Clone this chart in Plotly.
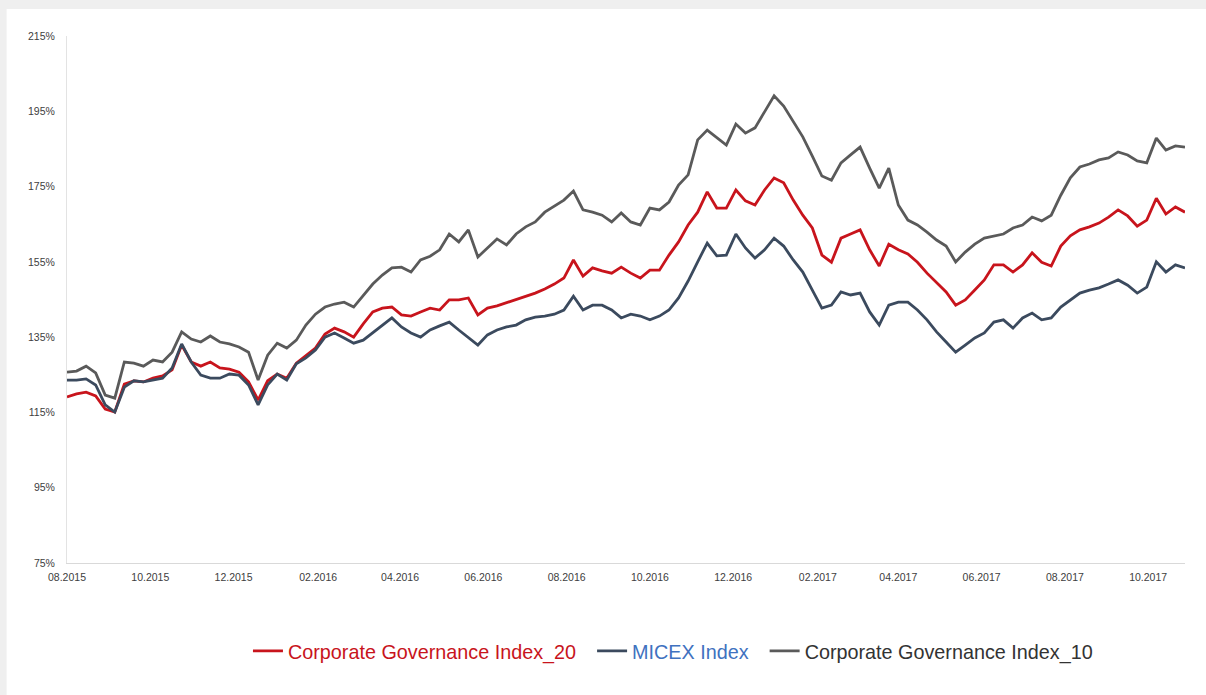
import pandas as pd
import plotly.graph_objects as go

# weekly observations, Aug 2015 - Oct 2017
dates = pd.date_range("2015-08-01", periods=118, freq="7D")

cgi20 = [119.1, 119.9, 120.4, 119.4, 115.9, 115.1, 122.5, 123.4, 123.1, 124.1,
         124.7, 126.3, 132.9, 128.4, 127.3, 128.4, 126.8, 126.5, 125.7, 123.1,
         118.3, 123.4, 125.2, 124.1, 128.1, 130.2, 132.1, 135.8, 137.4, 136.4,
         135.0, 138.5, 141.7, 142.7, 143.0, 140.9, 140.6, 141.7, 142.7, 142.2,
         144.9, 144.9, 145.4, 140.9, 142.7, 143.3, 144.1, 145.1, 145.9, 146.7,
         147.8, 149.1, 150.7, 155.5, 151.2, 153.4, 152.6, 152.0, 153.6, 152.0,
         150.7, 152.8, 152.8, 156.8, 160.3, 164.8, 168.2, 173.6, 169.3, 169.3,
         174.1, 171.2, 170.1, 174.1, 177.3, 176.0, 171.4, 167.4, 164.0, 156.8,
         154.9, 161.3, 162.4, 163.5, 158.2, 153.9, 159.7, 158.2, 157.1, 154.9,
         152.0, 149.6, 147.0, 143.5, 144.9, 147.5, 150.2, 154.2, 154.2, 152.3,
         154.2, 157.4, 154.9, 153.9, 159.2, 161.9, 163.5, 164.3, 165.3, 166.9,
         168.8, 167.2, 164.5, 166.1, 171.9, 167.7, 169.6, 168.2]

micex = [123.6, 123.6, 123.9, 122.3, 117.0, 115.1, 121.7, 123.4, 123.1, 123.6,
         124.1, 126.8, 133.2, 128.4, 124.9, 124.1, 124.1, 125.2, 124.9, 122.3,
         117.0, 122.3, 125.2, 123.6, 127.9, 129.5, 131.6, 135.0, 136.1, 134.8,
         133.4, 134.2, 136.1, 138.2, 140.1, 137.7, 136.1, 135.0, 136.9, 138.0,
         139.0, 136.9, 135.0, 132.9, 135.6, 136.9, 137.7, 138.2, 139.6, 140.3,
         140.6, 141.1, 142.2, 145.9, 142.2, 143.5, 143.5, 142.2, 140.1, 141.1,
         140.6, 139.6, 140.6, 142.2, 145.4, 149.9, 155.0, 160.0, 156.6, 156.8,
         162.4, 158.7, 156.0, 158.2, 161.3, 159.2, 155.5, 152.3, 147.5, 142.7,
         143.5, 147.0, 146.2, 146.7, 141.7, 138.2, 143.5, 144.3, 144.3, 142.2,
         139.6, 136.4, 133.7, 131.0, 132.9, 134.8, 136.1, 139.0, 139.6, 137.4,
         140.1, 141.4, 139.6, 140.1, 143.0, 144.9, 146.7, 147.5, 148.1, 149.1,
         150.2, 148.8, 146.7, 148.3, 155.0, 152.3, 154.2, 153.4]

cgi10 = [125.7, 126.0, 127.3, 125.5, 119.6, 118.8, 128.4, 128.1, 127.3, 128.9,
         128.4, 131.0, 136.4, 134.5, 133.7, 135.3, 133.7, 133.2, 132.4, 131.0,
         123.6, 130.2, 133.4, 132.1, 134.2, 138.2, 141.1, 143.0, 143.8, 144.3,
         143.0, 145.9, 149.1, 151.5, 153.4, 153.6, 152.3, 155.5, 156.5, 158.2,
         162.4, 160.3, 163.5, 156.3, 158.7, 161.1, 159.5, 162.4, 164.3, 165.6,
         168.2, 169.8, 171.4, 173.8, 168.8, 168.2, 167.4, 165.6, 168.0, 165.6,
         164.8, 169.3, 168.8, 170.9, 175.4, 178.1, 187.4, 190.0, 187.9, 186.0,
         191.6, 189.2, 190.6, 194.8, 199.1, 196.4, 192.2, 188.2, 183.1, 177.8,
         176.7, 181.3, 183.4, 185.5, 179.9, 174.6, 179.9, 170.1, 166.1, 164.8,
         162.9, 160.8, 159.2, 155.0, 157.6, 159.7, 161.3, 161.9, 162.4, 164.0,
         164.8, 166.9, 165.9, 167.4, 172.7, 177.3, 180.2, 181.0, 182.1, 182.6,
         184.2, 183.4, 181.8, 181.3, 187.9, 184.7, 185.8, 185.5]

series_names = ["Corporate Governance Index_20", "MICEX Index", "Corporate Governance Index_10"]
line_colors = ["#c8141c", "#3b4a5e", "#5a5a5a"]
text_colors = ["#c8141c", "#3f72c0", "#333333"]
values = [cgi20, micex, cgi10]

y_ticks = [75, 95, 115, 135, 155, 175, 195, 215]

fig = go.Figure()
for i, (name, vals, lc, tc) in enumerate(zip(series_names, values, line_colors, text_colors)):
    pad = "&nbsp;&nbsp;" if i < len(series_names) - 1 else ""
    fig.add_trace(go.Scatter(
        x=dates, y=vals, mode="lines", name=f"<span style='color:{tc}'>{name}</span>{pad}",
        line=dict(color=lc, width=2.8), hoverinfo="skip"))

fig.add_shape(type="rect", xref="paper", yref="paper", x0=-0.054, x1=1.05, y0=-0.4, y1=1.0512,
              fillcolor="white", line=dict(width=0), layer="below")

fig.update_layout(
    width=1206, height=695,
    margin=dict(l=67, r=21, t=36, b=132),
    paper_bgcolor="#efefef", plot_bgcolor="white",
    font=dict(family="Liberation Sans, Arial, sans-serif", color="#404040"),
    showlegend=True,
    legend=dict(orientation="h", x=0.542, xanchor="center", y=-0.167, yanchor="middle",
                font=dict(size=19.8), bgcolor="rgba(0,0,0,0)", itemwidth=30),
    xaxis=dict(type="date", range=["2015-08-01", "2017-10-28"], tick0="2015-08-01", dtick="M2",
               tickformat="%m.%Y", showgrid=False, zeroline=False, showline=True,
               linecolor="#d9d9d9", linewidth=1, ticks="outside", ticklen=4,
               tickcolor="rgba(0,0,0,0)", tickfont=dict(size=10.5, color="#404040")),
    yaxis=dict(range=[75, 215], tickvals=y_ticks, ticktext=[f"{v}%" for v in y_ticks],
               showgrid=False, zeroline=False, showline=True, linecolor="#e3e3e3",
               linewidth=1, ticks="outside", ticklen=9, tickcolor="rgba(0,0,0,0)",
               tickfont=dict(size=10.5, color="#404040")),
)

fig.write_html("out.html")
